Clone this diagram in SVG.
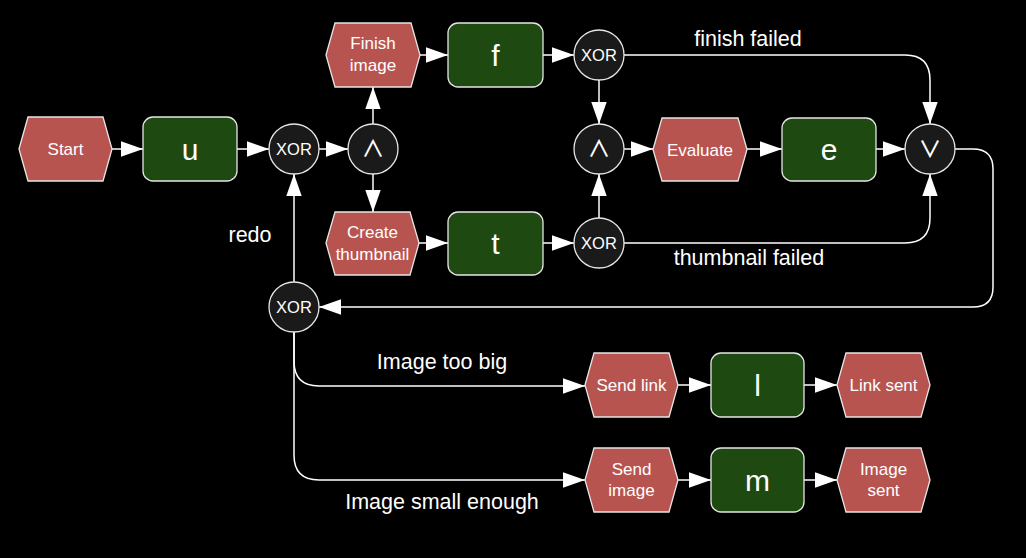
<svg xmlns="http://www.w3.org/2000/svg" width="1026" height="558" viewBox="0 0 1026 558">
<style>
.hex{fill:#b85450;stroke:#e6e6e6;stroke-width:1.3}
.task{fill:#1e4a12;stroke:#e6e6e6;stroke-width:1.3}
.gate{fill:#1a1a1a;stroke:#e6e6e6;stroke-width:1.3}
.ht{font-family:"Liberation Sans",Arial,sans-serif;font-size:17px;fill:#ffffff;text-anchor:middle}
.tt{font-family:"Liberation Sans",Arial,sans-serif;font-size:30px;fill:#ffffff;text-anchor:middle}
.gt{font-family:"Liberation Sans",Arial,sans-serif;font-size:16.5px;fill:#ffffff;text-anchor:middle}
.gs{font-family:"Noto Sans CJK SC","DejaVu Sans",sans-serif;font-size:23px;font-weight:500;fill:#ffffff;text-anchor:middle}
.el{font-family:"Liberation Sans",Arial,sans-serif;font-size:21.5px;fill:#ffffff;text-anchor:middle}
.c{fill:none;stroke:#ffffff;stroke-width:1.5}
</style>
<defs>
<marker id="arr" markerUnits="userSpaceOnUse" markerWidth="22" markerHeight="16" viewBox="0 0 20 14" refX="20" refY="7" orient="auto">
<path d="M0,0 L20,7 L0,14 Z" fill="#ffffff"/>
</marker>
</defs>
<rect width="1026" height="558" fill="#000000"/>

<g id="connectors">
<path class="c" marker-end="url(#arr)" d="M112,149 L143,149"/>
<path class="c" marker-end="url(#arr)" d="M237,149 L269,149"/>
<path class="c" marker-end="url(#arr)" d="M319,149 L348,149"/>
<path class="c" marker-end="url(#arr)" d="M373,124 L373,87"/>
<path class="c" marker-end="url(#arr)" d="M373,174 L373,212"/>
<path class="c" marker-end="url(#arr)" d="M420,55 L448,55"/>
<path class="c" marker-end="url(#arr)" d="M543,55 L574,55"/>
<path class="c" marker-end="url(#arr)" d="M599,80 L599,124"/>
<path class="c" marker-end="url(#arr)" d="M624,55 L905,55 Q930,55 930,80 L930,124"/>
<path class="c" marker-end="url(#arr)" d="M419,243 L448,243"/>
<path class="c" marker-end="url(#arr)" d="M543,243 L574,243"/>
<path class="c" marker-end="url(#arr)" d="M599,218 L599,174"/>
<path class="c" marker-end="url(#arr)" d="M624,243 L905,243 Q930,243 930,218 L930,174"/>
<path class="c" marker-end="url(#arr)" d="M624,149 L653,149"/>
<path class="c" marker-end="url(#arr)" d="M747,149 L782,149"/>
<path class="c" marker-end="url(#arr)" d="M876,149 L905,149"/>
<path class="c" marker-end="url(#arr)" d="M955,149 L973,149 Q993,149 993,169 L993,287 Q993,307 973,307 L319,307"/>
<path class="c" marker-end="url(#arr)" d="M294,282 L294,174"/>
<path class="c" marker-end="url(#arr)" d="M294,332 L294,361 Q294,386 319,386 L585,386"/>
<path class="c" marker-end="url(#arr)" d="M294,332 L294,455 Q294,480 319,480 L585,480"/>
<path class="c" marker-end="url(#arr)" d="M678,385 L711,385"/>
<path class="c" marker-end="url(#arr)" d="M804,385 L837,385"/>
<path class="c" marker-end="url(#arr)" d="M678,480 L711,480"/>
<path class="c" marker-end="url(#arr)" d="M804,480 L837,480"/>
<text class="el" x="748" y="46">finish failed</text>
<text class="el" x="749" y="265">thumbnail failed</text>
<text class="el" x="250" y="242">redo</text>
<text class="el" x="442" y="369">Image too big</text>
<text class="el" x="442" y="509">Image small enough</text>
</g>

<g id="start">
<polygon class="hex" points="19,149 28,117 103,117 112,149 103,181 28,181"/>
<text class="ht" x="65.5" y="155">Start</text>
</g>
<g id="u">
<rect class="task" x="143" y="117" width="94" height="64" rx="10"/>
<text class="tt" x="190" y="159.5">u</text>
</g>
<g id="xor1">
<circle class="gate" cx="294" cy="149" r="25"/>
<text class="gt" x="294" y="154.5">XOR</text>
</g>
<g id="and1">
<circle class="gate" cx="373" cy="149" r="25"/>
<text class="gs" x="373" y="157">∧</text>
</g>
<g id="finish-image">
<polygon class="hex" points="326,55 335,23 411,23 420,55 411,87 335,87"/>
<text class="ht" x="373" y="49">Finish</text>
<text class="ht" x="373" y="71">image</text>
</g>
<g id="create-thumbnail">
<polygon class="hex" points="326,243 335,212 410,212 419,243 410,275 335,275"/>
<text class="ht" x="372.5" y="238">Create</text>
<text class="ht" x="372.5" y="259.5">thumbnail</text>
</g>
<g id="f">
<rect class="task" x="448" y="23" width="95" height="64" rx="10"/>
<text class="tt" x="495.5" y="65.5">f</text>
</g>
<g id="t">
<rect class="task" x="448" y="212" width="95" height="63" rx="10"/>
<text class="tt" x="495.5" y="253.5">t</text>
</g>
<g id="xor2">
<circle class="gate" cx="599" cy="55" r="25"/>
<text class="gt" x="599" y="60.5">XOR</text>
</g>
<g id="xor4">
<circle class="gate" cx="599" cy="243" r="25"/>
<text class="gt" x="599" y="248.5">XOR</text>
</g>
<g id="and2">
<circle class="gate" cx="599" cy="149" r="25"/>
<text class="gs" x="599" y="157">∧</text>
</g>
<g id="evaluate">
<polygon class="hex" points="653,149.5 662,118 738,118 747,149.5 738,181 662,181"/>
<text class="ht" x="700" y="155.5">Evaluate</text>
</g>
<g id="e">
<rect class="task" x="782" y="118" width="94" height="63" rx="10"/>
<text class="tt" x="829" y="159.5">e</text>
</g>
<g id="or">
<circle class="gate" cx="930" cy="149" r="25"/>
<text class="gs" x="930" y="157">∨</text>
</g>
<g id="xor3">
<circle class="gate" cx="294" cy="307" r="25"/>
<text class="gt" x="294" y="312.5">XOR</text>
</g>
<g id="send-link">
<polygon class="hex" points="585,385 594,353 669,353 678,385 669,417 594,417"/>
<text class="ht" x="631.5" y="391">Send link</text>
</g>
<g id="l">
<rect class="task" x="711" y="353" width="93" height="64" rx="10"/>
<text class="tt" x="757.5" y="395.5">l</text>
</g>
<g id="link-sent">
<polygon class="hex" points="837,385 846,353 921,353 930,385 921,417 846,417"/>
<text class="ht" x="883.5" y="391">Link sent</text>
</g>
<g id="send-image">
<polygon class="hex" points="585,480 594,448 669,448 678,480 669,512 594,512"/>
<text class="ht" x="631.5" y="474.5">Send</text>
<text class="ht" x="631.5" y="496">image</text>
</g>
<g id="m">
<rect class="task" x="711" y="448" width="93" height="64" rx="10"/>
<text class="tt" x="757.5" y="490.5">m</text>
</g>
<g id="image-sent">
<polygon class="hex" points="837,480 846,448 921,448 930,480 921,512 846,512"/>
<text class="ht" x="883.5" y="474.5">Image</text>
<text class="ht" x="883.5" y="496">sent</text>
</g>
</svg>
